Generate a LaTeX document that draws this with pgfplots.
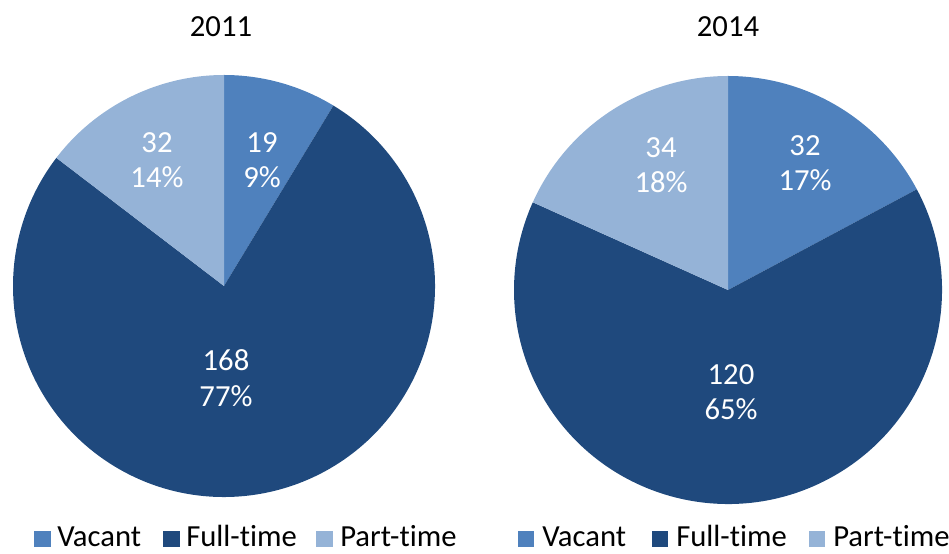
\documentclass[border=0pt]{standalone}
\usepackage{pgfplots}
\pgfplotsset{compat=1.18}
\usepackage{fontspec}
\setmainfont[Ligatures=NoCommon]{Carlito}
\definecolor{vac}{HTML}{4F81BD}
\definecolor{full}{HTML}{1F497D}
\definecolor{part}{HTML}{95B3D7}
\begin{document}
\begin{tikzpicture}
% data (counts)
\def\Avac{19}\def\Afull{168}\def\Apart{32}
\def\Bvac{32}\def\Bfull{120}\def\Bpart{34}
\pgfmathsetmacro\Atot{\Avac+\Afull+\Apart}
\pgfmathsetmacro\Aone{90-360*(\Avac/\Atot)}
\pgfmathsetmacro\Atwo{\Aone-360*(\Afull/\Atot)}
\pgfmathsetmacro\Btot{\Bvac+\Bfull+\Bpart}
\pgfmathsetmacro\Bone{90-360*(\Bvac/\Btot)}
\pgfmathsetmacro\Btwo{\Bone-360*(\Bfull/\Btot)}
\def\RA{158.25pt}
\def\RB{160.5pt}
\begin{axis}[scale only axis, width=711.75pt, height=414.75pt,
  xmin=0, xmax=949, ymin=0, ymax=553, hide axis, clip=false]
% pie 2011
\fill[vac] (axis cs:224,267) -- ++(90:\RA) arc[start angle=90, end angle=\Aone, radius=\RA] -- cycle;
\fill[full] (axis cs:224,267) -- ++(\Aone:\RA) arc[start angle=\Aone, end angle=\Atwo, radius=\RA] -- cycle;
\fill[part] (axis cs:224,267) -- ++(\Atwo:\RA) arc[start angle=\Atwo, end angle=-270, radius=\RA] -- cycle;
% pie 2014
\fill[vac] (axis cs:728,263) -- ++(90:\RB) arc[start angle=90, end angle=\Bone, radius=\RB] -- cycle;
\fill[full] (axis cs:728,263) -- ++(\Bone:\RB) arc[start angle=\Bone, end angle=\Btwo, radius=\RB] -- cycle;
\fill[part] (axis cs:728,263) -- ++(\Btwo:\RB) arc[start angle=\Btwo, end angle=-270, radius=\RB] -- cycle;
% titles
\node[font=\fontsize{23}{27}\selectfont] at (axis cs:221,526) {2011};
\node[font=\fontsize{23}{27}\selectfont] at (axis cs:728,526) {2014};
% data labels
\tikzset{lab/.style={white, align=center, inner sep=0pt, font=\fontsize{23}{26.5}\selectfont}}
\node[lab] at (axis cs:262,393) {19\\9\%};
\node[lab] at (axis cs:157,393) {32\\14\%};
\node[lab] at (axis cs:226,175) {168\\77\%};
\node[lab] at (axis cs:805,390) {32\\17\%};
\node[lab] at (axis cs:661,388) {34\\18\%};
\node[lab] at (axis cs:731,161) {120\\65\%};
% legends
\tikzset{leg/.style={anchor=base west, inner sep=0pt, font=\fontsize{23}{27}\selectfont}}
\fill[vac]  (axis cs:34,6) rectangle (axis cs:51,22);
\node[leg] at (axis cs:57,7) {Vacant};
\fill[full] (axis cs:163,6) rectangle (axis cs:180,22);
\node[leg] at (axis cs:186,7) {Full-time};
\fill[part] (axis cs:316,6) rectangle (axis cs:333,22);
\node[leg] at (axis cs:340,7) {Part-time};
\fill[vac]  (axis cs:518,6) rectangle (axis cs:534,22);
\node[leg] at (axis cs:542,7) {Vacant};
\fill[full] (axis cs:652,6) rectangle (axis cs:668,22);
\node[leg] at (axis cs:676,7) {Full-time};
\fill[part] (axis cs:809,6) rectangle (axis cs:825,22);
\node[leg] at (axis cs:833,7) {Part-time};
\end{axis}
\pgfresetboundingbox
\path (0,0) rectangle (711.75pt,414.75pt);
\end{tikzpicture}
\end{document}
